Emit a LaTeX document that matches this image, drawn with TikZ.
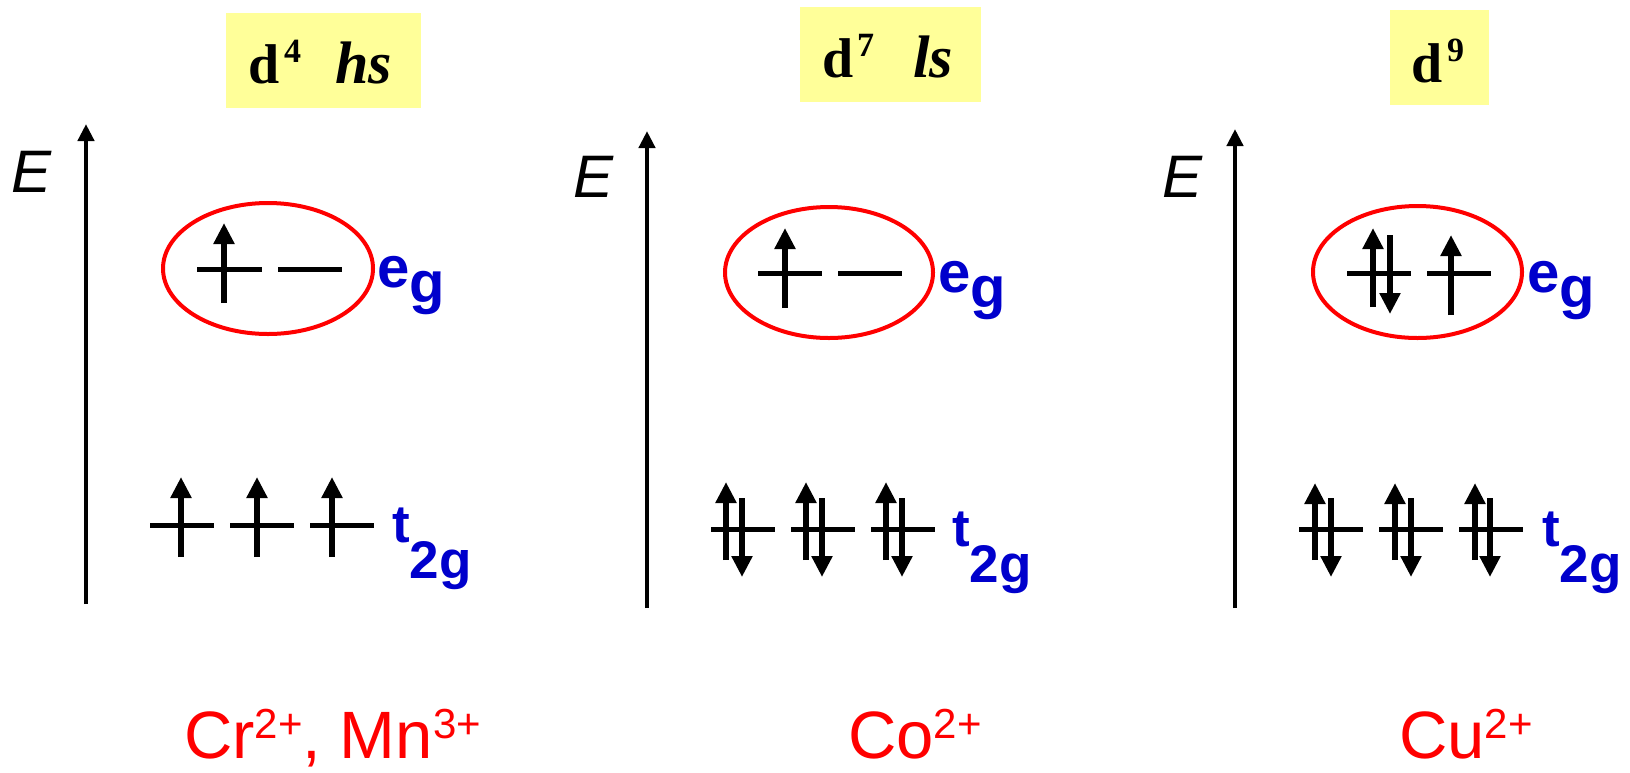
\documentclass[tikz,border=0pt]{standalone}
\usepackage{fontspec}
\setmainfont{Liberation Serif}
\newfontfamily\arial{Liberation Sans}
\usetikzlibrary{arrows.meta}
\definecolor{egblue}{RGB}{0,0,204}
\definecolor{boxyellow}{RGB}{255,255,153}
\definecolor{pred}{RGB}{255,0,0}
\tikzset{
  lbl/.style={inner sep=0pt, anchor=base west},
  titlebox/.style={fill=boxyellow, draw=none},
  dtxt/.style={lbl, font=\fontsize{56}{56}\selectfont\bfseries},
  dsuptxt/.style={lbl, font=\fontsize{34}{34}\selectfont\bfseries},
  spintxt/.style={lbl, font=\fontsize{60}{60}\selectfont\bfseries\itshape},
  axis/.style={line width=4.5pt, -{Triangle[width=16pt,length=17pt]}},
  elabel/.style={lbl, font=\arial\itshape\fontsize{60}{60}\selectfont},
  orb/.style={line width=5pt},
  eup/.style={line width=6pt, -{Triangle[width=20pt,length=21pt]}},
  ering/.style={draw=pred, line width=4pt},
  orblabel/.style={lbl, text=egblue, font=\arial\bfseries\fontsize{58}{58}\selectfont},
  tlabel/.style={lbl, text=egblue, font=\arial\bfseries\fontsize{53}{53}\selectfont},
  ion/.style={lbl, text depth=0pt, text=pred, font=\arial\fontsize{67}{67}\selectfont},
}
\newcommand{\ionsup}[1]{\raisebox{20pt}{\fontsize{42}{42}\selectfont #1}}
\begin{document}
\begin{tikzpicture}[x=1pt,y=-1pt]
\useasboundingbox (0,0) rectangle (1630,772);
% ---------------- Panel 1 ----------------
\fill[titlebox] (226,13) rectangle (421,108);
\node[dtxt] (d1) at (248,83) {d};
\node[dsuptxt] (d1s) at (284,62) {4};
\node[spintxt] (s1) at (335,83) {hs};
\coordinate (a1b) at (86,604); \coordinate (a1t) at (86,124);
\draw[axis] (a1b) -- (a1t);
\node[elabel] (E1) at (11,192) {E};
\draw[ering] (268,268.5) ellipse [x radius=105pt, y radius=65.5pt];
\draw[orb] (197,269) -- (262,269);
\draw[orb] (278,269) -- (342,269);
\draw[eup] (224,303) -- (224,223);
\node[orblabel] (eg1) at (377,287) {e\lower15pt\hbox{g}};
\foreach \x in {150,230,310} \draw[orb] (\x,525) -- ++(63.5,0);
\foreach \x in {181,257,332} \draw[eup] (\x,557) -- (\x,477);
\node[tlabel] (tg1) at (392,542) {t\lower36pt\hbox{2g}};
\node[ion] (ion1) at (184,758) {Cr\ionsup{2+}, Mn\ionsup{3+}};
% ---------------- Panel 2 ----------------
\fill[titlebox] (800,7) rectangle (981,102);
\node[dtxt] (d2) at (822,77) {d};
\node[dsuptxt] (d2s) at (857,56) {7};
\node[spintxt] (s2) at (913,77) {ls};
\coordinate (a2b) at (647,608); \coordinate (a2t) at (647,131);
\draw[axis] (a2b) -- (a2t);
\node[elabel] (E2) at (573,197) {E};
\draw[ering] (829,272.5) ellipse [x radius=104pt, y radius=65.5pt];
\draw[orb] (758,273) -- (822,273);
\draw[orb] (838,273) -- (902,273);
\draw[eup] (785,308) -- (785,228);
\node[orblabel] (eg2) at (938,292) {e\lower15pt\hbox{g}};
\foreach \x in {711,791,871} \draw[orb] (\x,529) -- ++(63.5,0);
\foreach \x in {726,806,886} \draw[eup] (\x,560) -- (\x,482);
\foreach \x in {742,822,902} \draw[eup] (\x,498) -- (\x,577);
\node[tlabel] (tg2) at (952,546) {t\lower36pt\hbox{2g}};
\node[ion] (ion2) at (848,758) {Co\ionsup{2+}};
% ---------------- Panel 3 ----------------
\fill[titlebox] (1390,10) rectangle (1489,105);
\node[dtxt] (d3) at (1411,82) {d};
\node[dsuptxt] (d3s) at (1447,61) {9};
\coordinate (a3b) at (1235,608); \coordinate (a3t) at (1235,129);
\draw[axis] (a3b) -- (a3t);
\node[elabel] (E3) at (1162,197) {E};
\draw[ering] (1417.5,272) ellipse [x radius=104.5pt, y radius=66pt];
\draw[orb] (1347,273) -- (1411,273);
\draw[orb] (1427,273) -- (1491,273);
\draw[eup] (1373,307) -- (1373,228);
\draw[eup] (1390,235) -- (1390,314);
\draw[eup] (1451,315) -- (1451,235);
\node[orblabel] (eg3) at (1527,292) {e\lower15pt\hbox{g}};
\foreach \x in {1299,1379,1459} \draw[orb] (\x,529) -- ++(64,0);
\foreach \x in {1315,1395,1475} \draw[eup] (\x,560) -- (\x,483);
\foreach \x in {1331,1411,1490} \draw[eup] (\x,498) -- (\x,577);
\node[tlabel] (tg3) at (1542,546) {t\lower36pt\hbox{2g}};
\node[ion] (ion3) at (1399,758) {Cu\ionsup{2+}};
\end{tikzpicture}
\end{document}
